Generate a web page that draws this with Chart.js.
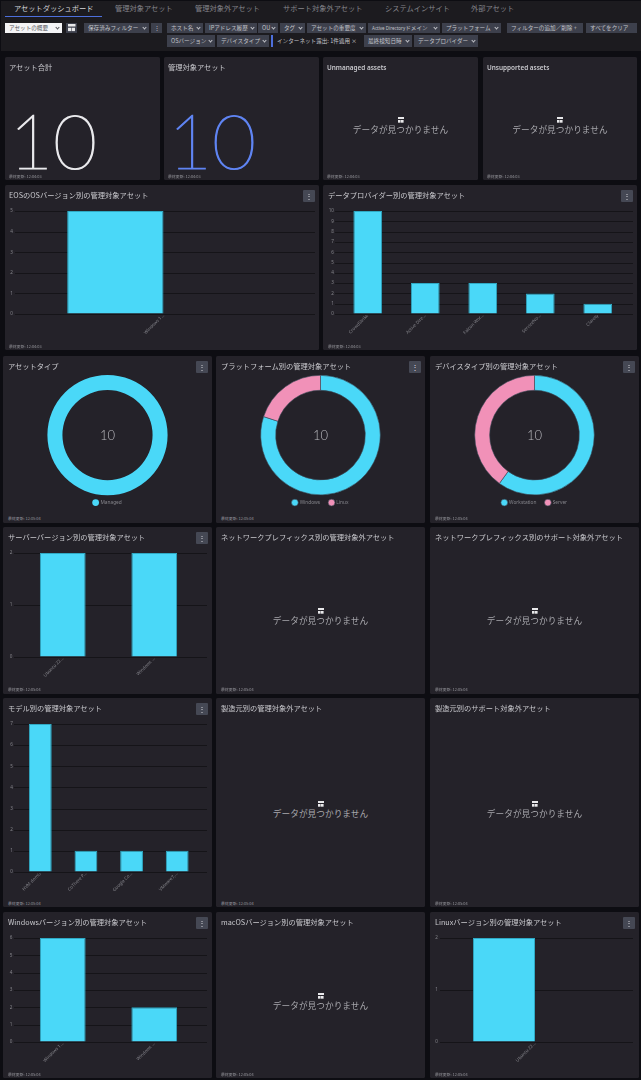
<!DOCTYPE html>
<html lang="ja"><head><meta charset="utf-8">
<script src="https://cdn.jsdelivr.net/npm/chart.js@4/dist/chart.umd.min.js"></script>
<style>
html,body{margin:0;padding:0;background:#0d0d12;}
body{width:641px;height:1080px;overflow:hidden;position:relative;font-family:"Noto Sans CJK JP","Noto Sans",sans-serif;}
#root{position:absolute;left:0;top:0;width:641px;height:1080px;filter:blur(0.3px);}
.abs,.panel,.chip,.tab,.t,canvas{position:absolute;}
#head{position:absolute;left:1px;top:1px;width:640px;height:50px;background:#1c1b1f;}
.tab{top:3px;font-size:7.25px;line-height:11px;color:#85858b;white-space:nowrap;}
.tab.on{color:#d8d8dc;}
.chip{background:#3d404c;color:#c2c3c9;font-size:5.6px;display:flex;align-items:center;justify-content:space-between;padding:0 3px 0 4px;box-sizing:border-box;white-space:nowrap;overflow:hidden;}
.chip.plain{background:transparent;}
.chip.white{background:#f4f4f6;color:#55565c;}
.chev{display:inline-block;width:2px;height:2px;border-right:.6px solid currentColor;border-bottom:.6px solid currentColor;transform:rotate(45deg);margin:-1px 0 0 2px;flex:none;}
.small{font-size:4.5px;font-family:"Noto Sans";}
.panel{background:#242229;border-radius:1.5px;}
.title{position:absolute;font-size:7.25px;line-height:10px;color:#c9c9ce;white-space:nowrap;will-change:transform;}
.title.en{font-family:"Noto Sans";font-weight:600;font-size:6.4px;margin-top:1px;}
.foot{position:absolute;font-size:3.9px;line-height:5px;color:#94949a;white-space:nowrap;}
.menu{position:absolute;width:12px;height:12px;background:#454854;border-radius:1px;color:#dcdce0;font-size:8px;line-height:12px;text-align:center;}
.big{position:absolute;font-family:Lato;font-weight:100;font-size:76px;line-height:76px;white-space:nowrap;-webkit-text-stroke:1.2px currentColor;}
.nodata{position:absolute;font-size:8.7px;line-height:12px;color:#a8a8ad;white-space:nowrap;transform:translateX(-50%);}
.ico{position:absolute;width:6px;height:6px;background:
 linear-gradient(#e8e8ea,#e8e8ea) 0 0/6px 2.4px no-repeat,
 linear-gradient(#e8e8ea,#e8e8ea) 0 3.3px/2.6px 2.7px no-repeat,
 linear-gradient(#e8e8ea,#e8e8ea) 3.4px 3.3px/2.6px 2.7px no-repeat;}
.center{position:absolute;font-family:Lato;font-weight:300;font-size:13px;line-height:14px;color:#b9b9be;transform:translateX(-50%);}
</style></head>
<body><div id="root"><div id="head"></div></div>
<script>
// ---------- data ----------
const tabLabels=['アセットダッシュボード','管理対象アセット','管理対象外アセット','サポート対象外アセット','システムインサイト','外部アセット'];
const eosLabels=['Windows 1…'];
const eosValues=[5];
const eosSpacer=[null];
const providerLabels=['CrowdStrike','Active Dire…','Falcon Wor…','ServiceNo…','Claroty'];
const providerValues=[10,3,3,2,1];
const assetTypeLabels=['Managed'];
const assetTypeValues=[10];
const platformLabels=['Windows','Linux'];
const platformValues=[8,2];
const deviceLabels=['Workstation','Server'];
const deviceValues=[6,4];
const serverLabels=['Ubuntu 22…','Windows …'];
const serverValues=[2,2];
const modelLabels=['HVM domU','CoThere P…','Google Co…','VMware7,…'];
const modelValues=[7,1,1,1];
const windowsLabels=['Windows 1…','Windows …'];
const windowsValues=[6,2];
const linuxLabels=['Ubuntu 22…'];
const linuxValues=[2];
const linuxSpacer=[null];
const totalAssets='10';
const managedAssets='10';

const CYAN='#4ad8f8',EDGE='#2fa9c4',PINK='#f191b8',GRID='#151418',TICK='#85858b';
const root=document.getElementById('root');
function el(cls,style,text,parent){const d=document.createElement('div');d.className=cls;Object.assign(d.style,style);if(text!=null)d.textContent=text;(parent||root).appendChild(d);return d;}
const px=n=>n+'px';

// ---------- header ----------
[[14],[115],[195],[283],[385],[471]].forEach((p,i)=>el('tab'+(i==0?' on':''),{left:px(p[0])},tabLabels[i]));
el('abs',{left:'5px',top:'16px',width:'97px',height:'1px',background:'#4d6fdc'});
const R1=[22.5,33],R2=[35,47];
[['アセットの概要',5,62,R1,'white',1],['',66,77,R1,''],['保存済みフィルター',84,149,R1,'',1],['⋮',151,162,R1,''],
 ['ホスト名',167,203,R1,'',1],['IPアドレス履歴',205,257,R1,'',1],['OU',258,278,R1,'',1],['タグ',280,305,R1,'',1],
 ['アセットの重要度',307,366,R1,'',1],['Active Directory|ドメイン',368,440,R1,'',1],['プラットフォーム',442,501,R1,'',1],
 ['フィルターの追加／削除 +',507,583,R1,'',0],['すべてをクリア',586,637,R1,'',0],
 ['OSバージョン',167,215,R2,'',1],['デバイスタイプ',217,269,R2,'',1],['インターネット露出: 1件適用 ×',273,362,R2,'plain',0],
 ['最終検知日時',364,412,R2,'',1],['データプロバイダー',414,478,R2,'',1]
].forEach(c=>{
  const d=el('chip '+c[4],{left:px(c[1]),width:px(c[2]-c[1]),top:px(c[3][0]),height:px(c[3][1]-c[3][0])});
  if(c[0]==='⋮'){d.style.justifyContent='center';d.style.padding='0';}
  const s=document.createElement('span');
  if(c[0].includes('|')){const [a,b]=c[0].split('|');const q=document.createElement('span');q.className='small';q.textContent=a;s.appendChild(q);s.appendChild(document.createTextNode(b));}
  else s.textContent=c[0];
  d.appendChild(s);
  if(c[5]){const v=document.createElement('span');v.className='chev';d.appendChild(v);}
  if(c[1]==66){el('ico',{left:'1.5px',top:'1.2px',transform:'scale(1.25)',transformOrigin:'0 0',position:'absolute'},null,d);d.style.padding='0';}
});
el('abs',{left:'271px',top:'35px',width:'2px',height:'12px',background:'#4d6fdc'});

// ---------- panels ----------
function panel(x0,x1,y0,y1,title,time,opt){
  opt=opt||{};
  el('panel',{left:px(x0),top:px(y0),width:px(x1-x0),height:px(y1-y0)});
  el('title'+(opt.en?' en':''),{left:px(x0+(opt.tx||5)),top:px(y0+5)},title);
  const fy=opt.fy;
  el('foot',{left:px(x0+(opt.tx||5)),top:px(fy-2.5)},'最終更新: '+time);
  if(opt.menu) el('menu',{left:px(x1-16.5),top:px(y0+4.5)},'⋮');
  if(opt.nodata){
    const cx=(x0+x1)/2;
    el('ico',{left:px(cx-3),top:px(opt.nodata-13)});
    el('nodata',{left:px(cx),top:px(opt.nodata-6)},'データが見つかりません');
  }
}
const T1='12:04:03',T2='12:05:04';
panel(5,160,57,180,'アセット合計',T1,{fy:176,tx:4});
panel(164,319,57,180,'管理対象アセット',T1,{fy:176,tx:4});
panel(323,478,57,180,'Unmanaged assets',T1,{fy:176,tx:4,en:1,nodata:130});
panel(483,637,57,180,'Unsupported assets',T1,{fy:176,tx:4,en:1,nodata:130});
el('big',{left:'9px',top:'102px',color:'#e9e9ec'},totalAssets);
el('big',{left:'168px',top:'102px',color:'#5f84f2'},managedAssets);
panel(5,319,185,350,'EOSのOSバージョン別の管理対象アセット',T1,{fy:346,tx:4,menu:1});
panel(323,637,185,350,'データプロバイダー別の管理対象アセット',T1,{fy:346,tx:5,menu:1});
panel(3,212,356,523,'アセットタイプ',T2,{fy:518,menu:1});
panel(216,425,356,523,'プラットフォーム別の管理対象アセット',T2,{fy:518,menu:1});
panel(430,639,356,523,'デバイスタイプ別の管理対象アセット',T2,{fy:518,menu:1});
panel(3,212,527,694,'サーバーバージョン別の管理対象アセット',T2,{fy:689,menu:1});
panel(216,425,527,694,'ネットワークプレフィックス別の管理対象外アセット',T2,{fy:689,nodata:621});
panel(430,639,527,694,'ネットワークプレフィックス別のサポート対象外アセット',T2,{fy:689,nodata:621});
panel(3,212,698,907,'モデル別の管理対象アセット',T2,{fy:903,menu:1});
panel(216,425,698,907,'製造元別の管理対象外アセット',T2,{fy:903,nodata:814});
panel(430,639,698,907,'製造元別のサポート対象外アセット',T2,{fy:903,nodata:814});
panel(3,212,912,1078,'Windowsバージョン別の管理対象アセット',T2,{fy:1074,menu:1});
panel(216,425,912,1078,'macOSバージョン別の管理対象アセット',T2,{fy:1074,nodata:1006});
panel(430,639,912,1078,'Linuxバージョン別の管理対象アセット',T2,{fy:1074,menu:1});

function canvas(x,y,w,h){const c=document.createElement('canvas');c.width=w;c.height=h;c.style.left=px(x);c.style.top=px(y);c.style.width=px(w);c.style.height=px(h);root.appendChild(c);return c;}

// draws the y scale's grid lines slightly past the plot area, as the dashboard does
const gridExtend={id:'gridExtend',beforeDatasetsDraw(ch,a,o){
  const y=ch.scales.y,g=ch.ctx;g.save();g.strokeStyle=GRID;g.lineWidth=1;
  y.ticks.forEach((t,i)=>{const p=Math.round(y.getPixelForTick(i))+.5;g.beginPath();g.moveTo(o.l,p);g.lineTo(o.r,p);g.stroke();});
  g.restore();}};

function barChart(box,area,grid,labels,sets,maxY,cp,bp,lpad){
  const W=box[1]-box[0],H=box[3]-box[2];
  new Chart(canvas(box[0],box[2],W,H),{type:'bar',plugins:[gridExtend],
    data:{labels,datasets:sets.map(v=>({data:v,backgroundColor:CYAN,borderColor:EDGE,borderWidth:1,categoryPercentage:cp,barPercentage:bp}))},
    options:{responsive:false,animation:false,events:[],
      layout:{padding:{left:0,top:area[2]-box[2],right:box[1]-area[1],bottom:0}},
      plugins:{legend:{display:false},tooltip:{enabled:false},gridExtend:{l:grid[0]-box[0],r:grid[1]-box[0]}},
      scales:{
        x:{grid:{display:false,drawTicks:false},border:{display:false},
           ticks:{autoSkip:false,minRotation:45,maxRotation:45,color:TICK,font:{size:4.5,family:'Noto Sans'},padding:-1},
           afterFit(s){s.height=box[3]-area[3];s.paddingLeft=0;s.paddingRight=0;}},
        y:{min:0,max:maxY,grid:{drawOnChartArea:false,drawTicks:false},border:{display:false},
           ticks:{stepSize:1,color:TICK,font:{size:4.6,family:'Noto Sans'},padding:lpad},
           afterFit(s){s.width=area[0]-box[0];s.paddingTop=0;s.paddingBottom=0;}}
      }}});
}
barChart([5,319,185,350],[13,314,211,314],[15,315],eosLabels,[eosValues,eosSpacer],5,.64,1,0);
barChart([323,637,185,350],[339,626.5,211,314],[335,633],providerLabels,[providerValues],10,1,.5,5);
barChart([3,212,527,694],[17,200,553,657],[14,207],serverLabels,[serverValues],2,1,.5,4.5);
barChart([3,212,698,907],[17.5,200,724,872],[14,207],modelLabels,[modelValues],7,1,.5,4.5);
barChart([3,212,912,1078],[17,200,938,1042],[14,207],windowsLabels,[windowsValues],6,1,.5,4.5);
barChart([430,639,912,1078],[438,632,938,1042],[440,633],linuxLabels,[linuxValues,linuxSpacer],2,.64,1,0);

const legendShift={id:'legendShift',afterLayout(ch){ch.legend.top-=4;ch.legend.bottom-=4;}};
function donut(x0,x1,labels,values,colors){
  const W=x1-x0,H=144,Y=375;
  new Chart(canvas(x0,Y,W,H),{type:'doughnut',plugins:[legendShift],
    data:{labels,datasets:[{data:values,backgroundColor:colors,borderColor:'#3a4a58',borderWidth:values.length>1?.6:0}]},
    options:{responsive:false,animation:false,events:[],cutout:'75%',
      plugins:{tooltip:{enabled:false},legend:{position:'bottom',labels:{usePointStyle:true,pointStyle:'circle',boxWidth:6,boxHeight:6,padding:9,color:TICK,font:{size:4.8,family:'Noto Sans'}}}}}});
  el('center',{left:px((x0+x1)/2),top:'428px'},String(values.reduce((a,b)=>a+b,0)));
}
donut(3,212,assetTypeLabels,assetTypeValues,[CYAN]);
donut(216,425,platformLabels,platformValues,[CYAN,PINK]);
donut(430,639,deviceLabels,deviceValues,[CYAN,PINK]);
</script></body></html>
